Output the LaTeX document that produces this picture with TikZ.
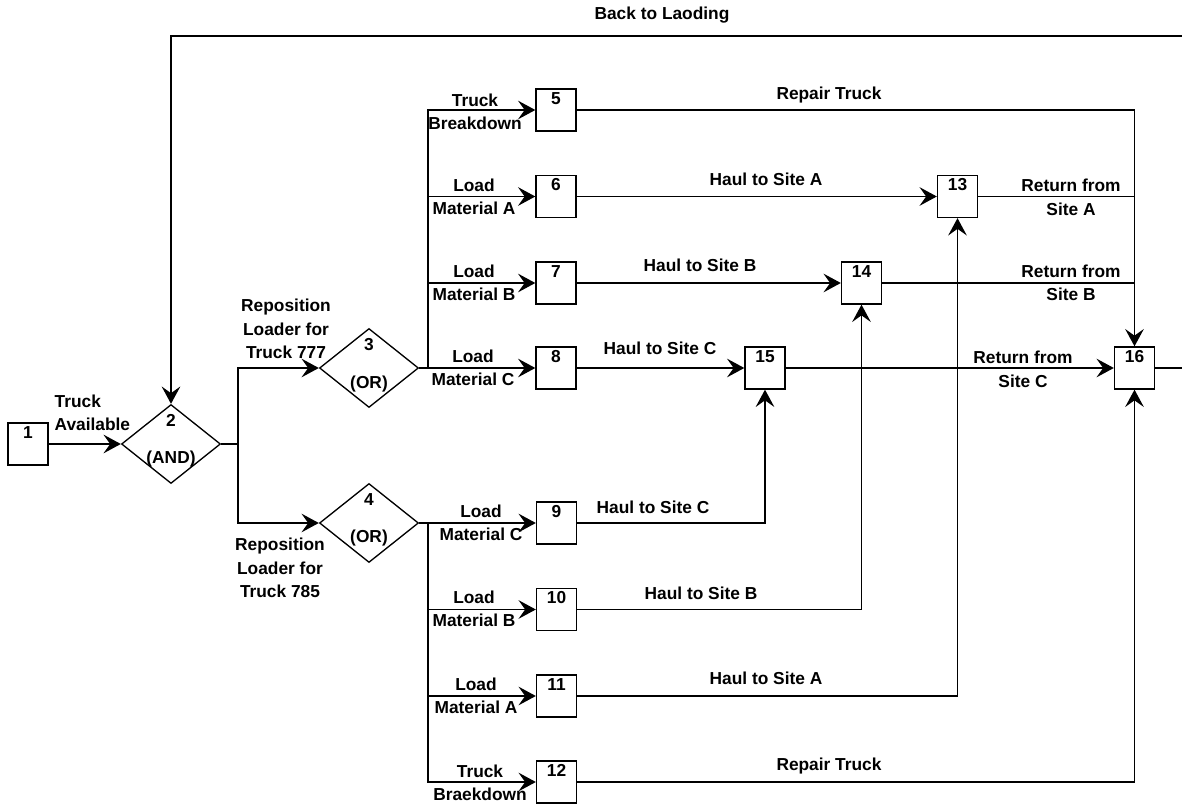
\documentclass[tikz,border=0pt]{standalone}
\usepackage{fontspec}
\setmainfont{Liberation Sans}
\usetikzlibrary{shapes.geometric}
\usetikzlibrary{arrows.meta}
\usetikzlibrary{positioning}

\begin{document}
\begin{tikzpicture}[x=0.75pt,y=-0.75pt,line width=1pt,
  every node/.style={font=\fontsize{13}{17.6}\selectfont\bfseries},
  actbox/.style={draw,minimum width=30pt,minimum height=31.5pt,inner sep=0pt},
  gate/.style={draw,diamond,minimum width=74.25pt,minimum height=59.25pt,inner sep=0pt},
  boxnum/.style={anchor=north,inner sep=1.5pt,yshift=-1pt},
  flow/.style={-{Stealth[length=13pt,width=14pt,inset=5pt]}},
  lbl/.style={align=center,inner sep=0pt}]
  \useasboundingbox (0,0) rectangle (1182,805);

  % start activity and the two gates
  \node[actbox,label={[boxnum]north:1}] (n1) at (28,444) {};
  \node[gate] (g2) at (171,444) {};
  \node[gate] (g3) at (369,368) {};
  \node[gate] (g4) at (369,523) {};
  \node at (171,420) {2};
  \node at (171,459) {(AND)};
  \node at (369,345) {3};
  \node at (369,384) {(OR)};
  \node at (369,500) {4};
  \node at (369,538) {(OR)};

  % loading activities
  \foreach \n/\y in {5/110,6/196.5,7/283,8/368}{
    \node[actbox,label={[boxnum]north:\n}] (n\n) at (556,\y) {};
  }
  \foreach \n/\y in {9/523,10/609.5,11/696,12/782}{
    \node[actbox,label={[boxnum]north:\n}] (n\n) at (556.5,\y) {};
  }

  % arrival at the sites and return
  \node[actbox,label={[boxnum]north:13}] (n13) at (957.5,196.5) {};
  \node[actbox,label={[boxnum]north:14}] (n14) at (861.5,283) {};
  \node[actbox,label={[boxnum]north:15}] (n15) at (765,368) {};
  \node[actbox,label={[boxnum]north:16}] (n16) at (1134.5,368) {};

  % split points
  \coordinate (j1) at (238,444);
  \coordinate (s3) at (428,368);
  \coordinate (s4) at (428,523);
  \coordinate (out16) at (1182,368);
  \coordinate (back) at (1182,36);

  % gates
  \draw[flow] (n1) -- (g2);
  \draw (g2.east) -- (j1);
  \draw[flow] (j1) |- (g3.west);
  \draw[flow] (j1) |- (g4.west);
  \draw (g3.east) -- (s3);
  \draw (g4.east) -- (s4);
  \foreach \n in {5,6,7,8}{
    \draw[flow] (s3) |- (n\n.west);
  }
  \foreach \n in {9,10,11,12}{
    \draw[flow] (s4) |- (n\n.west);
  }

  % hauls
  \draw[flow] (n6) -- (n13);
  \draw[flow] (n7) -- (n14);
  \draw[flow] (n8) -- (n15);
  \draw[flow] (n9.east) -| (n15.south);
  \draw[flow] (n10.east) -| (n14.south);
  \draw[flow] (n11.east) -| (n13.south);

  % returns and repairs
  \draw[flow] (n5.east) -| (n16.north);
  \draw[flow] (n12.east) -| (n16.south);
  \draw (n13.east) -- (n13.east -| n16);
  \draw (n14.east) -- (n14.east -| n16);
  \draw[flow] (n15) -- (n16);
  \draw (n16.east) -- (out16);
  \draw[flow] (back) -| (g2.north);

  % labels
  \node[lbl] at (662,15) {Back to Laoding};
  \node[lbl,align=left,anchor=west] at (54,413) {Truck\\Available};
  \node[lbl] at (286,329) {Reposition\\Loader for\\Truck 777};
  \node[lbl] at (280,568) {Reposition\\Loader for\\Truck 785};
  \node[lbl] at (475,112) {Truck\\Breakdown};
  \node[lbl] at (474,197) {Load\\Material A};
  \node[lbl] at (474,283) {Load\\Material B};
  \node[lbl] at (473,368) {Load\\Material C};
  \node[lbl] at (481,523) {Load\\Material C};
  \node[lbl] at (474,609) {Load\\Material B};
  \node[lbl] at (476,696) {Load\\Material A};
  \node[lbl] at (480,783) {Truck\\Braekdown};
  \node[lbl] at (829,95) {Repair Truck};
  \node[lbl] at (766,179) {Haul to Site A};
  \node[lbl] at (700,265) {Haul to Site B};
  \node[lbl] at (660,348) {Haul to Site C};
  \node[lbl] at (653,507) {Haul to Site C};
  \node[lbl] at (701,593) {Haul to Site B};
  \node[lbl] at (766,678) {Haul to Site A};
  \node[lbl] at (829,766) {Repair Truck};
  \node[lbl] at (1071,197.5) {Return from\\Site A};
  \node[lbl] at (1071,283) {Return from\\Site B};
  \node[lbl] at (1023,369.5) {Return from\\Site C};
\end{tikzpicture}
\end{document}
